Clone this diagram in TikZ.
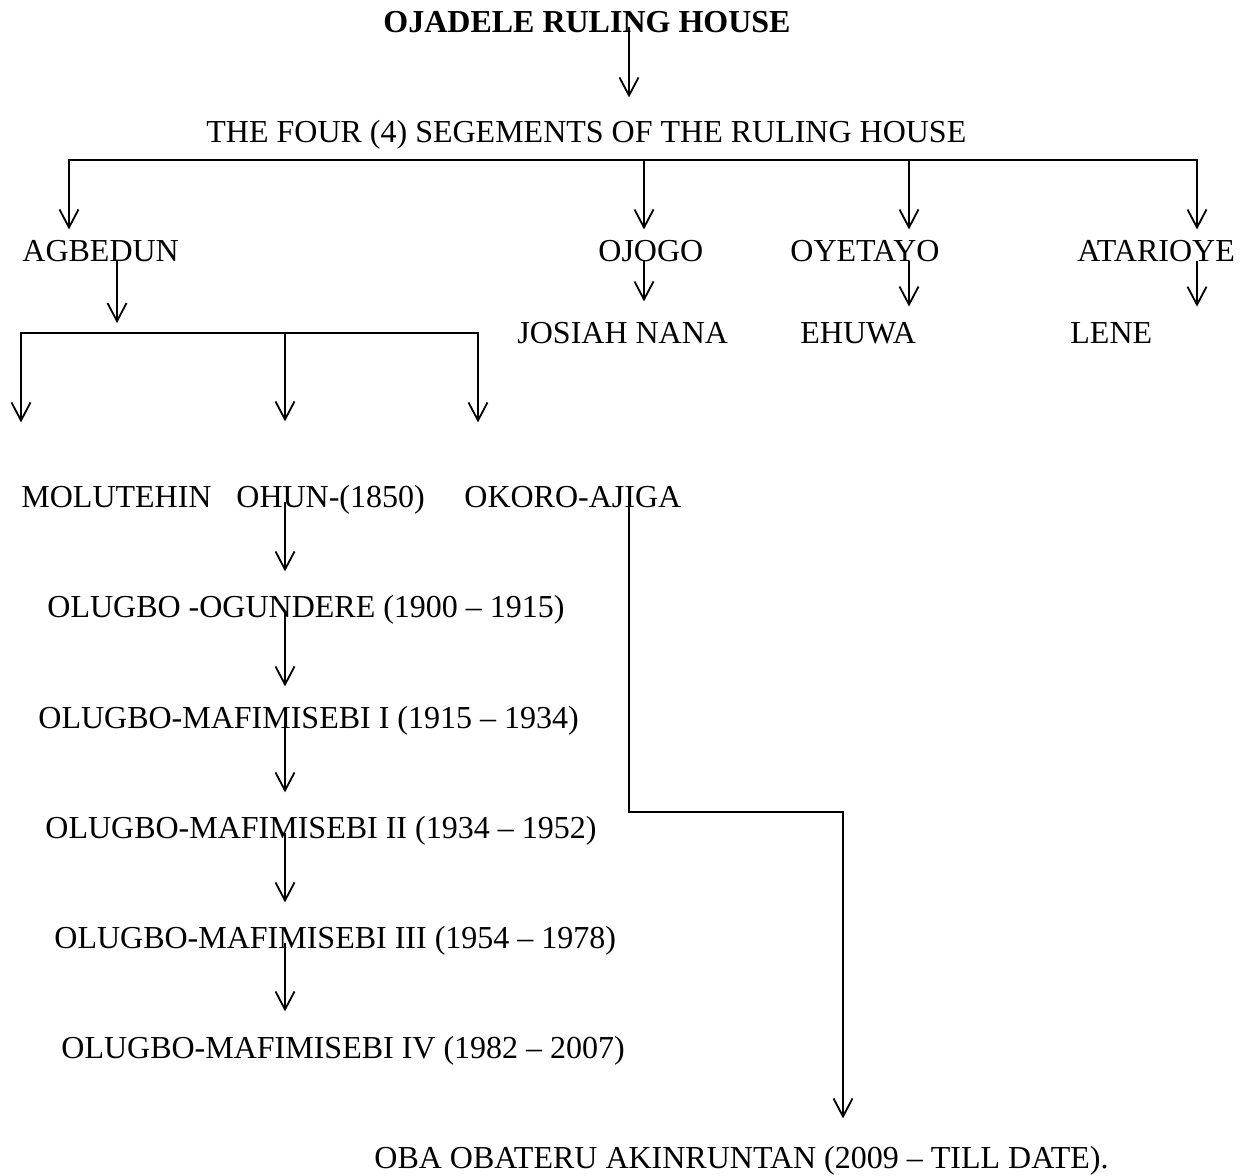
\documentclass[tikz,border=0pt]{standalone}
\usepackage{fontspec}
\setmainfont{Liberation Serif}
\usepackage{tikz}
\usetikzlibrary{arrows.meta}
\tikzstyle{member} = [anchor=base west, inner sep=0pt, font=\fontsize{16}{19}\selectfont]
\tikzstyle{line} = [draw, line width=0.9pt, -{Straight Barb[length=9pt,width=9.5pt]}, shorten >=5pt]
\tikzstyle{bar} = [draw, line width=0.9pt, line cap=rect]

\begin{document}
\begin{tikzpicture}[x=0.5pt, y=-0.5pt]
  \useasboundingbox (0,0) rectangle (1258,1175);
  % nodes
  \node [member, font=\fontsize{16}{19}\selectfont\bfseries] (title) at (383,32) {OJADELE RULING HOUSE};
  \node [member] (segs) at (206,142) {THE FOUR (4) SEGEMENTS OF THE RULING HOUSE};
  \node [member] (agbedun) at (22,261) {AGBEDUN};
  \node [member] (ojogo) at (598,261) {OJOGO};
  \node [member] (oyetayo) at (790,261) {OYETAYO};
  \node [member] (atarioye) at (1077,261) {ATARIOYE};
  \node [member] (josiah) at (517,343) {JOSIAH NANA};
  \node [member] (ehuwa) at (800,343) {EHUWA};
  \node [member] (lene) at (1070,343) {LENE};
  \node [member] (molutehin) at (21,507) {MOLUTEHIN};
  \node [member] (ohun) at (236,507) {OHUN-(1850)};
  \node [member] (okoro) at (464,507) {OKORO-AJIGA};
  \node [member] (ogundere) at (47,617) {OLUGBO -OGUNDERE (1900 – 1915)};
  \node [member] (mafi1) at (38,728) {OLUGBO-MAFIMISEBI I (1915 – 1934)};
  \node [member] (mafi2) at (45,838) {OLUGBO-MAFIMISEBI II (1934 – 1952)};
  \node [member] (mafi3) at (54,948) {OLUGBO-MAFIMISEBI III (1954 – 1978)};
  \node [member] (mafi4) at (61,1058) {OLUGBO-MAFIMISEBI IV (1982 – 2007)};
  \node [member] (oba) at (374,1168) {OBA OBATERU AKINRUNTAN (2009 – TILL DATE).};
  % junctions
  \coordinate (xa) at (629,0);
  \coordinate (xb) at (117,0);
  \coordinate (t1) at (69,160);
  \coordinate (t2) at (644,160);
  \coordinate (t3) at (909,160);
  \coordinate (t4) at (1197,160);
  \coordinate (l1) at (21,333);
  \coordinate (l2) at (285,333);
  \coordinate (l3) at (478,333);
  \coordinate (k1) at (843,812);
  % edges
  \path [line, shorten >=11pt] (title.mid -| xa) -- (segs.north -| xa);
  \path [bar] (t1) -- (t4);
  \path [line] (t1) -- (agbedun.north -| t1);
  \path [line] (t2) -- (ojogo.north -| t2);
  \path [line] (t3) -- (oyetayo.north -| t3);
  \path [line] (t4) -- (atarioye.north -| t4);
  \path [line, shorten >=10pt] (ojogo.base -| t2) -- (josiah.north -| t2);
  \path [line, shorten >=7.5pt] (oyetayo.base -| t3) -- (ehuwa.north -| t3);
  \path [line, shorten >=7.5pt] (atarioye.base -| t4) -- (lene.north -| t4);
  \path [line] (agbedun.base -| xb) -- (xb |- l1);
  \path [bar] (l1) -- (l3);
  \path [line, shorten >=31.5pt] (l1) -- (molutehin.north -| l1);
  \path [line, shorten >=31.5pt] (l2) -- (ohun.north -| l2);
  \path [line, shorten >=31.5pt] (l3) -- (okoro.north -| l3);
  \path [line, shorten >=11.5pt] (ohun.mid -| l2) -- (ogundere.north -| l2);
  \path [line, shorten >=9.5pt] (ogundere.mid -| l2) -- (mafi1.north -| l2);
  \path [line, shorten >=11.5pt] (mafi1.mid -| l2) -- (mafi2.north -| l2);
  \path [line, shorten >=11.5pt] (mafi2.mid -| l2) -- (mafi3.north -| l2);
  \path [line, shorten >=12pt] (mafi3.mid -| l2) -- (mafi4.north -| l2);
  \path [bar] (okoro.mid -| xa) |- (k1);
  \path [line, shorten >=13.5pt] (k1) -- (oba.north -| k1);
\end{tikzpicture}
\end{document}
